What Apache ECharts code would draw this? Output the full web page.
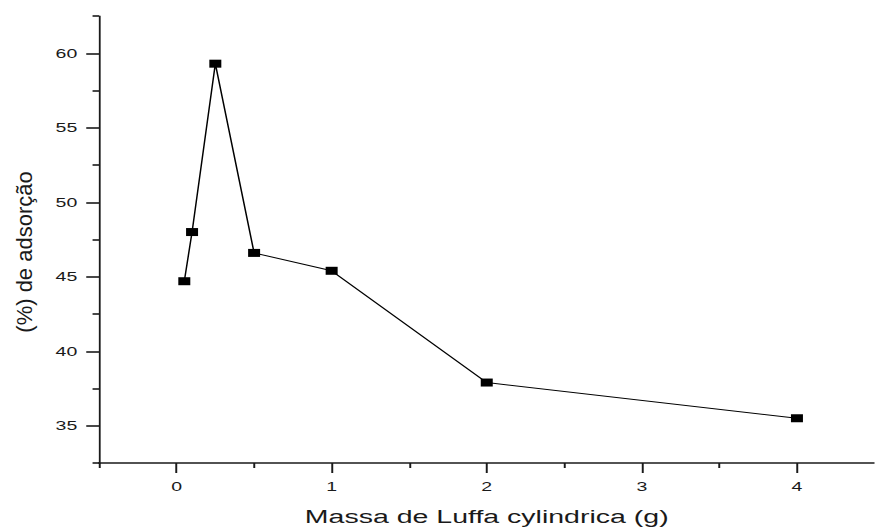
<!DOCTYPE html>
<html>
<head>
<meta charset="utf-8">
<script src="https://cdn.jsdelivr.net/npm/echarts@6/dist/echarts.min.js"></script>
<style>
  html, body { margin: 0; padding: 0; background: #fff; overflow: hidden; }
  #wrap { width: 875px; height: 531px; overflow: hidden; }
  /* the plot is laid out on a narrower canvas and widened 1.5x, giving the wide lettering */
  #chart { width: 583.33px; height: 531px; transform: scaleX(1.5); transform-origin: 0 0; }
</style>
</head>
<body>
<div id="wrap"><div id="chart"></div></div>
<script>
// Mass of Luffa cylindrica (g) vs adsorption (%)
const massa = [0.05, 0.1, 0.25, 0.5, 1, 2, 4];
const adsorcao = [44.7, 48.0, 59.3, 46.6, 45.4, 37.9, 35.5];

const xMajorTicks = [0, 1, 2, 3, 4];
const xMinorTicks = [-0.5, 0.5, 1.5, 2.5, 3.5];
const yMajorTicks = [35, 40, 45, 50, 55, 60];
const yMinorTicks = [32.5, 37.5, 42.5, 47.5, 52.5, 57.5, 62.5];

const xTitle = 'Massa de Luffa cylindrica (g)';
const yTitle = '(%) de adsorção';

const font = "'Liberation Sans', Arial, Helvetica, sans-serif";
const ink = '#1a1a1a';
const widen = 1.5;

const chart = echarts.init(document.getElementById('chart'), null, { renderer: 'svg' });

const gridBox = { left: 66, top: 16, width: 523.5, height: 447 };

const xRange = { min: -0.5, max: 4.5, interval: 0.5 };
const yRange = { min: 32.5, max: 62.5, interval: 2.5 };

chart.setOption({
  animation: false,
  backgroundColor: '#ffffff',
  grid: Object.assign({ containLabel: false }, gridBox),
  xAxis: [
    Object.assign({
      type: 'value',
      position: 'bottom',
      name: xTitle,
      nameLocation: 'middle',
      nameGap: 44,
      nameTextStyle: { fontFamily: font, fontSize: 19, color: ink },
      axisLine: { show: true, onZero: false, lineStyle: { color: ink, width: 1.6 } },
      axisTick: { show: true, inside: false, length: 10, customValues: xMajorTicks,
                  lineStyle: { color: ink, width: 1.3 } },
      axisLabel: { show: true, margin: 17, customValues: xMajorTicks,
                   fontFamily: font, fontSize: 13, color: ink },
      splitLine: { show: false }
    }, xRange),
    Object.assign({
      type: 'value',
      position: 'bottom',
      axisLine: { show: false, onZero: false },
      axisTick: { show: true, inside: false, length: 5, customValues: xMinorTicks,
                  lineStyle: { color: ink, width: 1.3 } },
      axisLabel: { show: false },
      splitLine: { show: false }
    }, xRange)
  ],
  yAxis: [
    Object.assign({
      type: 'value',
      position: 'left',
      axisLine: { show: true, onZero: false, lineStyle: { color: ink, width: 1.2 } },
      axisTick: { show: true, inside: false, length: 8.5, customValues: yMajorTicks,
                  lineStyle: { color: ink, width: 1.6 } },
      axisLabel: { show: true, margin: 14.5, customValues: yMajorTicks,
                   fontFamily: font, fontSize: 13, color: ink },
      splitLine: { show: false }
    }, yRange),
    Object.assign({
      type: 'value',
      position: 'left',
      axisLine: { show: false, onZero: false },
      axisTick: { show: true, inside: false, length: 4.3, customValues: yMinorTicks,
                  lineStyle: { color: ink, width: 1.6 } },
      axisLabel: { show: false },
      splitLine: { show: false }
    }, yRange)
  ],
  graphic: [{
    // vertical title; scaleY undoes the page widening so its glyphs keep normal proportions
    type: 'text',
    x: 16,
    y: 252,
    rotation: Math.PI / 2,
    scaleY: 1 / widen,
    style: {
      text: yTitle,
      fontFamily: font,
      fontSize: 22,
      fill: ink,
      align: 'center',
      verticalAlign: 'middle'
    }
  }],
  series: [{
    type: 'line',
    xAxisIndex: 0,
    yAxisIndex: 0,
    data: massa.map((m, i) => [m, adsorcao[i]]),
    symbol: 'rect',
    symbolSize: 8,
    showSymbol: true,
    itemStyle: { color: '#000' },
    lineStyle: { color: '#000', width: 1 },
    clip: false
  }]
});
</script>
</body>
</html>
